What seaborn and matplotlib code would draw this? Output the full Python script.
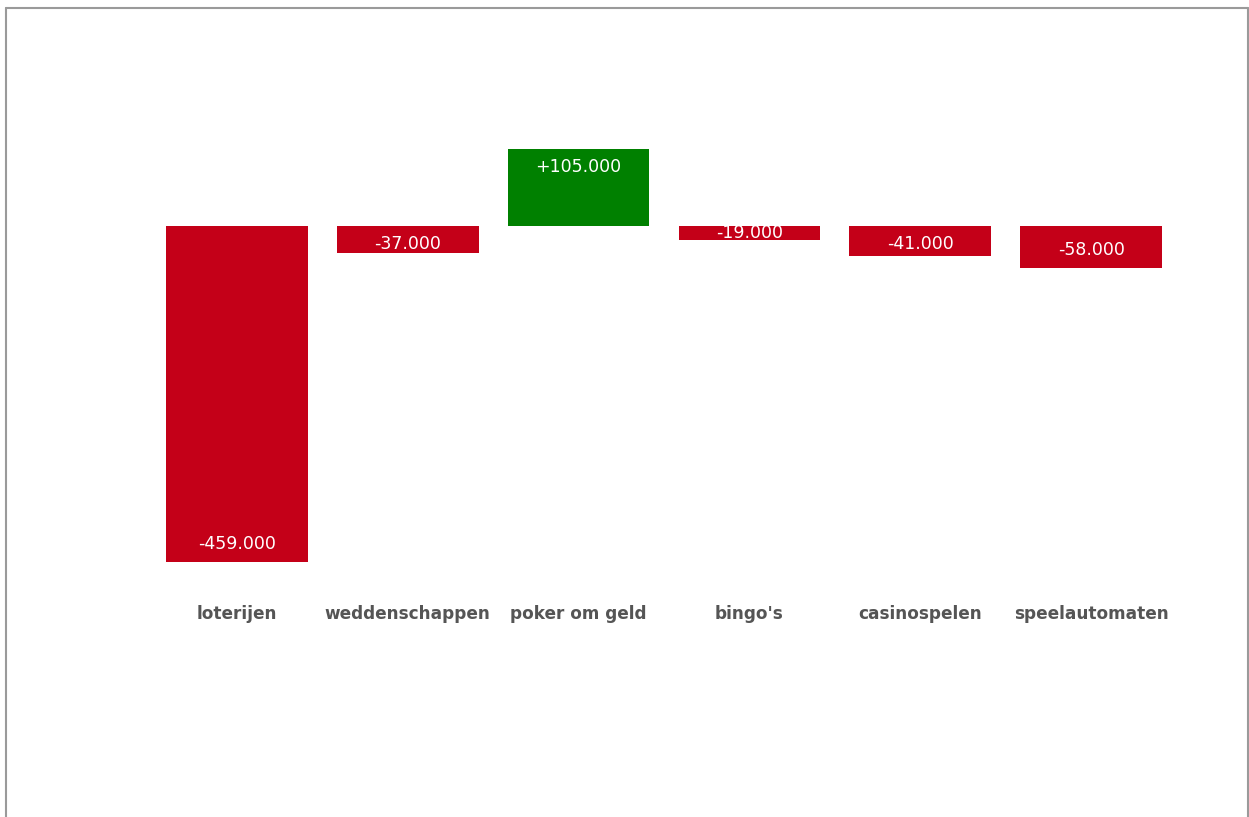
import matplotlib

matplotlib.use("Agg")
import matplotlib.pyplot as plt
from matplotlib.lines import Line2D
import pandas as pd
import seaborn as sns

categories = ["loterijen", "weddenschappen", "poker om geld",
              "bingo's", "casinospelen", "speelautomaten"]
values = [-459000, -37000, 105000, -19000, -41000, -58000]
labels = ["-459.000", "-37.000", "+105.000", "-19.000", "-41.000", "-58.000"]

RED = "#C40018"
GREEN = "#008000"

W, H = 1249, 817
PX_PER_UNIT = 0.731 / 1000  # pixels per value unit
AX_TOP, AX_BOT, BASE = 100, 580, 226  # pixel rows

df = pd.DataFrame({"cat": categories, "val": values})
palette = {c: (GREEN if v > 0 else RED) for c, v in zip(categories, values)}

sns.set_theme(style="white")
plt.rcParams["font.family"] = ["DejaVu Sans"]

fig = plt.figure(figsize=(W / 100, H / 100), dpi=100)
ax = fig.add_axes([151.5 / W, 1 - AX_BOT / H, 1025 / W, (AX_BOT - AX_TOP) / H])

sns.barplot(data=df, x="cat", y="val", hue="cat", palette=palette,
            width=0.83, saturation=1, legend=False, linewidth=0, ax=ax)

ymax = (BASE - AX_TOP) / PX_PER_UNIT
ymin = -(AX_BOT - BASE) / PX_PER_UNIT
ax.set_ylim(ymin, ymax)
ax.set_xlim(-0.5, len(categories) - 0.5)

# value labels inside the bar, near its far end
for i, (v, lab) in enumerate(zip(values, labels)):
    length_px = abs(v) * PX_PER_UNIT
    if length_px < 20:
        off_px = length_px / 2
    else:
        off_px = max(length_px - 18, 18)
    y = (off_px / PX_PER_UNIT) * (1 if v > 0 else -1)
    ax.text(i, y, lab, ha="center", va="center", color="white",
            fontsize=12.5)

ax.set_xlabel("")
ax.set_ylabel("")
ax.set_yticks([])
ax.tick_params(axis="x", length=0, pad=18)
for t in ax.get_xticklabels():
    t.set_fontsize(12.2)
    t.set_fontweight("bold")
    t.set_color("#555555")
sns.despine(ax=ax, left=True, bottom=True)

# outer frame (top, left, right)
fx0, fx1 = 6 / W, 1248 / W
fy = 1 - 8 / H
for xs, ys in [([fx0, fx1], [fy, fy]), ([fx0, fx0], [0, fy]), ([fx1, fx1], [0, fy])]:
    fig.add_artist(Line2D(xs, ys, transform=fig.transFigure,
                          color="#9a9a9a", lw=1.5))

fig.savefig("out.png", dpi=100, facecolor="white")
